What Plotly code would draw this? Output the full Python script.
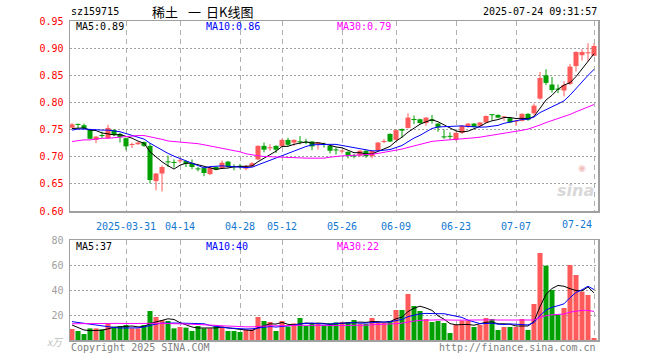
import plotly.graph_objects as go

# ---------------- data ----------------
dates = [
    "2025-03-18", "2025-03-19", "2025-03-20", "2025-03-21", "2025-03-24", "2025-03-25", "2025-03-26", "2025-03-27", "2025-03-28",
    "2025-03-31", "2025-04-01", "2025-04-02", "2025-04-03", "2025-04-07", "2025-04-08", "2025-04-09", "2025-04-10", "2025-04-11",
    "2025-04-14", "2025-04-15", "2025-04-16", "2025-04-17", "2025-04-18", "2025-04-21", "2025-04-22", "2025-04-23", "2025-04-24", "2025-04-25",
    "2025-04-28", "2025-04-29", "2025-04-30", "2025-05-06", "2025-05-07", "2025-05-08", "2025-05-09",
    "2025-05-12", "2025-05-13", "2025-05-14", "2025-05-15", "2025-05-16", "2025-05-19", "2025-05-20", "2025-05-21", "2025-05-22", "2025-05-23",
    "2025-05-26", "2025-05-27", "2025-05-28", "2025-05-29", "2025-05-30", "2025-06-03", "2025-06-04", "2025-06-05", "2025-06-06",
    "2025-06-09", "2025-06-10", "2025-06-11", "2025-06-12", "2025-06-13", "2025-06-16", "2025-06-17", "2025-06-18", "2025-06-19", "2025-06-20",
    "2025-06-23", "2025-06-24", "2025-06-25", "2025-06-26", "2025-06-27", "2025-06-30", "2025-07-01", "2025-07-02", "2025-07-03", "2025-07-04",
    "2025-07-07", "2025-07-08", "2025-07-09", "2025-07-10", "2025-07-11", "2025-07-14", "2025-07-15", "2025-07-16", "2025-07-17", "2025-07-18",
    "2025-07-21", "2025-07-22", "2025-07-23", "2025-07-24",
]

opens = [
    0.7535, 0.760, 0.758, 0.750, 0.731, 0.740, 0.734, 0.749, 0.742, 0.734,
    0.722, 0.723, 0.727, 0.720, 0.655, 0.669, 0.691, 0.690, 0.692, 0.692,
    0.687, 0.678, 0.679, 0.668, 0.681, 0.679, 0.691, 0.682, 0.683, 0.678,
    0.682, 0.695, 0.720, 0.716, 0.720, 0.719, 0.731, 0.726, 0.728, 0.727,
    0.728, 0.723, 0.723, 0.720, 0.713, 0.710, 0.709, 0.702, 0.702, 0.711,
    0.701, 0.711, 0.727, 0.742, 0.731, 0.751, 0.753, 0.769, 0.769, 0.762,
    0.769, 0.761, 0.737, 0.738, 0.731, 0.744, 0.755, 0.761, 0.757, 0.763,
    0.778, 0.777, 0.773, 0.771, 0.765, 0.766, 0.779, 0.780, 0.807, 0.850,
    0.833, 0.825, 0.822, 0.834, 0.867, 0.887, 0.891, 0.886,
]
closes = [
    0.7596, 0.759, 0.752, 0.733, 0.737, 0.738, 0.753, 0.740, 0.736, 0.719,
    0.723, 0.726, 0.720, 0.657, 0.669, 0.681, 0.690, 0.689, 0.693, 0.687,
    0.681, 0.677, 0.670, 0.680, 0.676, 0.689, 0.681, 0.681, 0.682, 0.683,
    0.688, 0.720, 0.713, 0.717, 0.713, 0.731, 0.722, 0.731, 0.727, 0.726,
    0.719, 0.726, 0.722, 0.711, 0.712, 0.711, 0.702, 0.701, 0.711, 0.701,
    0.711, 0.726, 0.729, 0.728, 0.749, 0.748, 0.772, 0.768, 0.762, 0.772,
    0.766, 0.754, 0.736, 0.737, 0.744, 0.757, 0.761, 0.755, 0.763, 0.775,
    0.777, 0.772, 0.774, 0.763, 0.766, 0.779, 0.768, 0.794, 0.845, 0.836,
    0.823, 0.824, 0.832, 0.866, 0.893, 0.893, 0.892, 0.904,
]
highs = [
    0.762, 0.761, 0.761, 0.751, 0.738, 0.746, 0.759, 0.751, 0.744, 0.735,
    0.726, 0.727, 0.728, 0.725, 0.670, 0.684, 0.702, 0.695, 0.697, 0.693,
    0.695, 0.681, 0.680, 0.682, 0.682, 0.693, 0.692, 0.686, 0.687, 0.685,
    0.690, 0.721, 0.726, 0.723, 0.721, 0.733, 0.735, 0.732, 0.738, 0.733,
    0.729, 0.727, 0.726, 0.721, 0.717, 0.713, 0.710, 0.705, 0.712, 0.712,
    0.712, 0.727, 0.733, 0.743, 0.750, 0.752, 0.780, 0.776, 0.770, 0.773,
    0.777, 0.762, 0.750, 0.745, 0.745, 0.758, 0.762, 0.762, 0.764, 0.776,
    0.778, 0.778, 0.775, 0.772, 0.768, 0.780, 0.780, 0.798, 0.856, 0.861,
    0.847, 0.833, 0.839, 0.871, 0.894, 0.898, 0.909, 0.909,
]
lows = [
    0.752, 0.752, 0.751, 0.733, 0.725, 0.734, 0.733, 0.738, 0.726, 0.712,
    0.716, 0.722, 0.718, 0.651, 0.638, 0.636, 0.681, 0.680, 0.688, 0.681,
    0.677, 0.673, 0.664, 0.666, 0.675, 0.678, 0.680, 0.675, 0.678, 0.675,
    0.681, 0.694, 0.708, 0.711, 0.707, 0.718, 0.720, 0.720, 0.723, 0.723,
    0.712, 0.713, 0.717, 0.706, 0.704, 0.706, 0.697, 0.697, 0.700, 0.698,
    0.697, 0.710, 0.725, 0.727, 0.730, 0.735, 0.752, 0.760, 0.761, 0.757,
    0.761, 0.746, 0.733, 0.732, 0.729, 0.742, 0.753, 0.754, 0.755, 0.762,
    0.768, 0.771, 0.766, 0.762, 0.757, 0.765, 0.766, 0.776, 0.805, 0.832,
    0.818, 0.817, 0.811, 0.832, 0.857, 0.877, 0.876, 0.885,
]
volumes = [  # 万
    8.8, 7.2, 4.8, 9.3, 9.3, 8.5, 12.8, 10.7, 11.2, 12.0,
    9.3, 9.3, 12.0, 23.2, 18.4, 16.0, 15.2, 9.3, 10.4, 9.9,
    7.2, 11.2, 9.3, 9.3, 11.2, 10.7, 7.2, 7.2, 6.4, 8.5,
    8.5, 18.4, 15.2, 14.4, 7.2, 15.2, 10.7, 13.3, 17.6, 11.2,
    12.8, 12.8, 12.0, 13.4, 14.1, 14.4, 14.4, 16.0, 12.8, 12.8,
    17.6, 14.4, 13.6, 15.2, 24.0, 24.0, 36.8, 27.2, 23.2, 16.8,
    14.4, 15.2, 13.6, 5.6, 12.0, 15.5, 15.5, 10.4, 12.0, 17.6,
    16.8, 8.0, 10.4, 10.4, 10.4, 16.8, 8.0, 28.8, 69.6, 59.5,
    40.0, 20.3, 25.6, 60.0, 52.0, 38.7, 36.0, 1.6,
]

# moving-average values at the start of the window (they depend on days before it)
ma5_head = [0.752, 0.753, 0.753, 0.749]
ma10_head = [0.749, 0.751, 0.751, 0.750, 0.749, 0.749, 0.749, 0.748, 0.746]
ma30_head = [0.728, 0.730, 0.731, 0.731, 0.733, 0.734, 0.734, 0.735, 0.737, 0.738,
             0.739, 0.739, 0.739, 0.737, 0.735, 0.732, 0.729, 0.728, 0.727, 0.727,
             0.725, 0.724, 0.722, 0.720, 0.718, 0.716, 0.714, 0.711, 0.709]
vma5_head = [12.0, 10.0, 8.0, 7.5]
vma10_head = [14.7, 14.0, 13.2, 12.5, 11.8, 11.0, 10.5, 10.0, 9.6]
vma30_head = [13.0, 13.1, 13.1, 13.0, 13.0, 13.0, 13.2, 13.3, 13.3, 13.2,
              13.1, 13.0, 13.0, 13.3, 13.4, 13.4, 13.3, 13.0, 12.9, 12.8,
              12.6, 12.5, 12.2, 12.0, 11.7, 11.4, 11.1, 10.9, 10.7]

# legend texts as printed on the chart
price_ma_labels = ["MA5:0.89", "MA10:0.86", "MA30:0.79"]
vol_ma_labels = ["MA5:37", "MA10:40", "MA30:22"]

tick_dates = ["2025-03-31", "2025-04-14", "2025-04-28", "2025-05-12", "2025-05-26",
              "2025-06-09", "2025-06-23", "2025-07-07", "2025-07-24"]
tick_labels = ["2025-03-31", "04-14", "04-28", "05-12", "05-26", "06-09", "06-23", "07-07", "07-24"]
price_ticks = [0.60, 0.65, 0.70, 0.75, 0.80, 0.85, 0.90, 0.95]
vol_ticks = [20, 40, 60, 80]


def moving_avg(vals, n, head):
    out = []
    for i in range(len(vals)):
        if i < n - 1:
            out.append(head[i])
        else:
            out.append(sum(vals[i - n + 1:i + 1]) / n)
    return out


ma5 = moving_avg(closes, 5, ma5_head)
ma10 = moving_avg(closes, 10, ma10_head)
ma30 = moving_avg(closes, 30, ma30_head)
vma5 = moving_avg(volumes, 5, vma5_head)
vma10 = moving_avg(volumes, 10, vma10_head)
vma30 = moving_avg(volumes, 30, vma30_head)

# ---------------- layout geometry (screen pixels) ----------------
W, H = 660, 360
LEFT, RIGHT = 70, 598
MAIN_TOP, MAIN_BOT = 21, 211
VOL_TOP, VOL_BOT = 240, 340


def px(x):
    return x / W


def py(y):
    return 1 - y / H


RED = "#ff5a5a"
GREEN = "#00a000"
BLUE = "#0000ff"
MAG = "#ff00ff"
MONO = "DejaVu Sans Mono"

n = len(dates)
idx = list(range(n))
up = [c >= o for o, c in zip(opens, closes)]
colors = [RED if u else GREEN for u in up]
tick_idx = [dates.index(d) for d in tick_dates]

fig = go.Figure()

# wicks
for flag, col in [(True, RED), (False, GREEN)]:
    xs, ys = [], []
    for i in idx:
        if up[i] == flag:
            xs += [i, i, None]
            ys += [lows[i], highs[i], None]
    fig.add_trace(go.Scatter(x=xs, y=ys, mode="lines", line=dict(color=col, width=1),
                             xaxis="x", yaxis="y", hoverinfo="skip", showlegend=False))

# bodies
MINB = 0.0019
body_h = [max(abs(c - o), MINB) for o, c in zip(opens, closes)]
body_base = [(o + c) / 2 - h / 2 for o, c, h in zip(opens, closes, body_h)]
fig.add_trace(go.Bar(x=idx, y=body_h, base=body_base, width=0.84,
                     marker=dict(color=colors, line=dict(width=0)),
                     xaxis="x", yaxis="y", showlegend=False, hoverinfo="skip"))

# price MAs
for vals, col in [(ma5, "#000000"), (ma10, BLUE), (ma30, MAG)]:
    fig.add_trace(go.Scatter(x=idx, y=vals, mode="lines", line=dict(color=col, width=1),
                             xaxis="x", yaxis="y", showlegend=False, hoverinfo="skip"))

# volume
fig.add_trace(go.Bar(x=idx, y=volumes, width=0.84,
                     marker=dict(color=colors, line=dict(width=0)),
                     xaxis="x2", yaxis="y2", showlegend=False, hoverinfo="skip"))
for vals, col in [(vma5, "#000000"), (vma10, BLUE), (vma30, MAG)]:
    fig.add_trace(go.Scatter(x=idx, y=vals, mode="lines", line=dict(color=col, width=1),
                             xaxis="x2", yaxis="y2", showlegend=False, hoverinfo="skip"))

xr = [-0.333, n - 0.333]
common_x = dict(range=xr, domain=[px(LEFT), px(RIGHT)], tickvals=tick_idx,
                showgrid=True, gridcolor="#b0b0b0", griddash="5px,4px", gridwidth=1,
                showline=True, mirror=True, linecolor="#a0a0a0", linewidth=1.5,
                zeroline=False, ticks="", fixedrange=True, automargin=False)

fig.update_layout(
    width=W, height=H, autosize=False,
    margin=dict(l=0, r=0, t=0, b=0, pad=0),
    paper_bgcolor="white", plot_bgcolor="white",
    barmode="overlay", showlegend=False,
    xaxis=dict(**common_x, anchor="y",
               ticktext=tick_labels[:-1] + [""],
               tickfont=dict(family=MONO, size=10, color="#1478d2"),
               ticklabelstandoff=5),
    yaxis=dict(domain=[py(MAIN_BOT), py(MAIN_TOP)], range=[0.60, 0.95], anchor="x",
               tickvals=price_ticks, ticktext=[f"{v:.2f}" for v in price_ticks],
               tickfont=dict(family=MONO, size=10, color="#ff0000"),
               showgrid=True, gridcolor="#a0a0a0", griddash="2px,2px", gridwidth=1,
               showline=True, mirror=True, linecolor="#a0a0a0", linewidth=1.5,
               zeroline=False, ticks="", ticklabelstandoff=3, fixedrange=True,
               automargin=False),
    xaxis2=dict(**common_x, anchor="y2", showticklabels=False),
    yaxis2=dict(domain=[py(VOL_BOT), py(VOL_TOP)], range=[0, 80], anchor="x2",
                tickvals=vol_ticks, ticktext=[str(v) for v in vol_ticks],
                tickfont=dict(family=MONO, size=10, color="#a0a0a0"),
                showgrid=True, gridcolor="#a0a0a0", griddash="2px,2px", gridwidth=1,
                showline=True, mirror=True, linecolor="#a0a0a0", linewidth=1.5,
                zeroline=False, ticks="", ticklabelstandoff=3, fixedrange=True,
                automargin=False),
)


def txt(x, y, s, color="#000000", size=10, family=MONO, xanchor="left"):
    fig.add_annotation(x=px(x), y=py(y), xref="paper", yref="paper", text=s,
                       showarrow=False, xanchor=xanchor, yanchor="middle",
                       font=dict(family=family, size=size, color=color))


# header
txt(69, 12, "sz159715")
txt(165, 12, "稀土", size=13, family="Noto Sans CJK SC", xanchor="center")
txt(194, 12, "一", size=13, family="Noto Sans CJK SC", xanchor="center")
txt(229, 12, "日K线图", size=13, family="Noto Sans CJK SC", xanchor="center")
txt(599, 12, "2025-07-24 09:31:57", xanchor="right")

# MA legends
for x, s, c in zip([74, 204, 335], price_ma_labels, ["#000000", BLUE, MAG]):
    txt(x, 27, s, color=c)
for x, s, c in zip([74, 204, 335], vol_ma_labels, ["#000000", BLUE, MAG]):
    txt(x, 246, s, color=c)

# last x label, right aligned at its gridline
fig.add_annotation(x=tick_idx[-1], y=py(224), xref="x", yref="paper", text=tick_labels[-1],
                   showarrow=False, xanchor="right", yanchor="middle",
                   font=dict(family=MONO, size=10, color="#1478d2"))

# volume unit
txt(66, 341, "<i>x万</i>", color="#c0c0c0", size=10, family="Noto Sans CJK SC", xanchor="right")

# footer
txt(69, 347, "Copyright 2025 SINA.COM", color="#808080")
txt(598, 347, "http://finance.sina.com.cn", color="#808080", xanchor="right")

# watermark
txt(596, 190, "<i><b>sina</b></i>", color="#d8d8d8", size=16, family="DejaVu Sans", xanchor="right")
txt(582, 168, "◉", color="#f2c0c0", size=9, family="DejaVu Sans", xanchor="center")

# remove the page's default body margin so the figure sits at the window origin
fig.write_html("out.html", config={"displayModeBar": False, "staticPlot": True},
               post_script="document.body.style.margin='0';")
